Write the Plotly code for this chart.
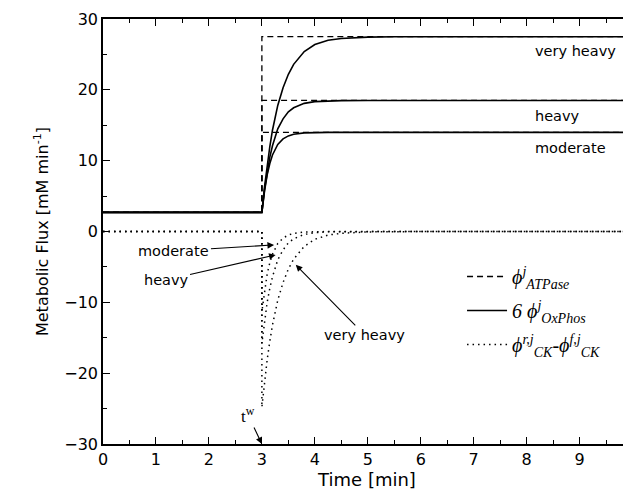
import plotly.graph_objects as go

# ---------------- data ----------------
t_rest = [0.0, 3.0]
rest_level = [2.7, 2.7]

t_rise = [3.0, 3.05, 3.1, 3.15, 3.2, 3.3, 3.4, 3.5, 3.6, 3.8, 4.0, 4.25, 4.5, 5.0, 5.5, 6.0, 10.0]

atpase_moderate = 14.0
atpase_heavy = 18.5
atpase_very_heavy = 27.5

oxphos_moderate = [2.7, 5.7, 8.0, 9.6, 10.8, 12.3, 13.07, 13.5, 13.73, 13.92, 13.98, 14.0, 14.0, 14.0, 14.0, 14.0, 14.0]
oxphos_heavy = [2.7, 5.9, 8.5, 10.5, 12.1, 14.5, 15.9, 16.9, 17.47, 18.09, 18.33, 18.45, 18.48, 18.5, 18.5, 18.5, 18.5]
oxphos_very_heavy = [2.7, 6.3, 9.4, 12.0, 14.3, 17.8, 20.3, 22.2, 23.6, 25.4, 26.4, 27.0, 27.25, 27.44, 27.49, 27.5, 27.5]

ck_moderate = [-11.3, -8.3, -6.0, -4.4, -3.2, -1.7, -0.93, -0.5, -0.27, -0.08, -0.02, 0.0, 0.0, 0.0, 0.0, 0.0, 0.0]
ck_heavy = [-15.8, -12.6, -10.0, -8.0, -6.4, -4.0, -2.6, -1.6, -1.03, -0.41, -0.17, -0.05, -0.02, 0.0, 0.0, 0.0, 0.0]
ck_very_heavy = [-24.8, -21.2, -18.1, -15.5, -13.2, -9.7, -7.2, -5.3, -3.9, -2.1, -1.1, -0.5, -0.25, -0.06, -0.01, 0.0, 0.0]

x_ticks = [0, 1, 2, 3, 4, 5, 6, 7, 8, 9]
y_ticks = [-30, -20, -10, 0, 10, 20, 30]

# ---------------- figure ----------------
fig = go.Figure()
BLACK = "black"
SANS = "DejaVu Sans, Arial, sans-serif"
SERIF = "Liberation Serif, Times New Roman, serif"

# ATPase (dashed steps)
for i, lvl in enumerate([atpase_very_heavy, atpase_heavy, atpase_moderate]):
    fig.add_trace(go.Scatter(
        x=t_rest + [t_rise[0], t_rise[-1]],
        y=rest_level + [lvl, lvl],
        mode="lines", line=dict(color=BLACK, width=1.3, dash="6px,4px"),
        name="<i>ϕ</i><sup><i>j</i></sup><sub><i>ATPase</i></sub>",
        legendgroup="atp", showlegend=(i == 0)))

# 6 OxPhos (solid)
for i, ys in enumerate([oxphos_very_heavy, oxphos_heavy, oxphos_moderate]):
    fig.add_trace(go.Scatter(
        x=t_rest + t_rise, y=rest_level + ys,
        mode="lines", line=dict(color=BLACK, width=1.6),
        name="<i>6 ϕ</i><sup><i>j</i></sup><sub><i>OxPhos</i></sub>",
        legendgroup="ox", showlegend=(i == 0)))

# CK (dotted)
for i, ys in enumerate([ck_very_heavy, ck_heavy, ck_moderate]):
    fig.add_trace(go.Scatter(
        x=[0.0, 3.0] + t_rise, y=[0.0, 0.0] + ys,
        mode="lines", line=dict(color=BLACK, width=1.5, dash="1.5px,4px"),
        name="<i>ϕ</i><sup><i>r,j</i></sup><sub><i>CK</i></sub><i>-ϕ</i><sup><i>f,j</i></sup><sub><i>CK</i></sub>",
        legendgroup="ck", showlegend=(i == 0)))

# level labels
lab_font = dict(family=SANS, size=14.5, color=BLACK)
for txt, yv in [("very heavy", 25.5), ("heavy", 16.3), ("moderate", 11.8)]:
    fig.add_annotation(x=8.11, y=yv, text=txt, showarrow=False, xanchor="left",
                       font=lab_font)

# arrow labels
arrows = [
    ("moderate", 3.23, -1.9, 1.34, -2.75),
    ("heavy", 3.26, -3.3, 1.19, -6.85),
    ("very heavy", 3.64, -4.7, 4.94, -14.6),
    ("t<sup>w</sup>", 3.0, -30.0, 2.74, -25.9),
]
for txt, x, y, ax, ay in arrows:
    fnt = lab_font if not txt.startswith("t") else dict(family=SERIF, size=17, color=BLACK)
    fig.add_annotation(x=x, y=y, ax=ax, ay=ay, axref="x", ayref="y", text=txt,
                       showarrow=True, arrowhead=2, arrowsize=1.2, arrowwidth=1.1,
                       arrowcolor=BLACK, font=fnt)

axis_common = dict(
    showline=True, linecolor=BLACK, linewidth=1.5, mirror="ticks",
    ticks="inside", ticklen=7, tickwidth=1.2, tickcolor=BLACK,
    showgrid=False, zeroline=False, automargin=False,
    tickfont=dict(family=SANS, size=16, color=BLACK),
)
fig.update_xaxes(range=[0, 9.97], tickvals=x_ticks,
                 minor=dict(dtick=0.5, ticks="inside", ticklen=4, tickcolor=BLACK, tickwidth=1.1),
                 title=dict(text="Time [min]", font=dict(family=SANS, size=18, color=BLACK), standoff=4),
                 **axis_common)
fig.update_yaxes(range=[-30, 30], tickvals=y_ticks,
                 minor=dict(dtick=5, ticks="inside", ticklen=4, tickcolor=BLACK, tickwidth=1.1),
                 title=dict(text="Metabolic Flux [mM min<sup>-1</sup>]", font=dict(family=SANS, size=16, color=BLACK), standoff=12),
                 **axis_common)

fig.update_layout(
    width=631, height=493,
    margin=dict(l=95, r=8, t=11, b=57),
    plot_bgcolor="white", paper_bgcolor="white",
    legend=dict(x=0.68, y=0.44, xanchor="left", yanchor="top",
                bgcolor="rgba(0,0,0,0)", borderwidth=0,
                font=dict(family=SERIF, size=20, color=BLACK),
                tracegroupgap=5, itemwidth=40),
)

fig.write_html("out.html")
